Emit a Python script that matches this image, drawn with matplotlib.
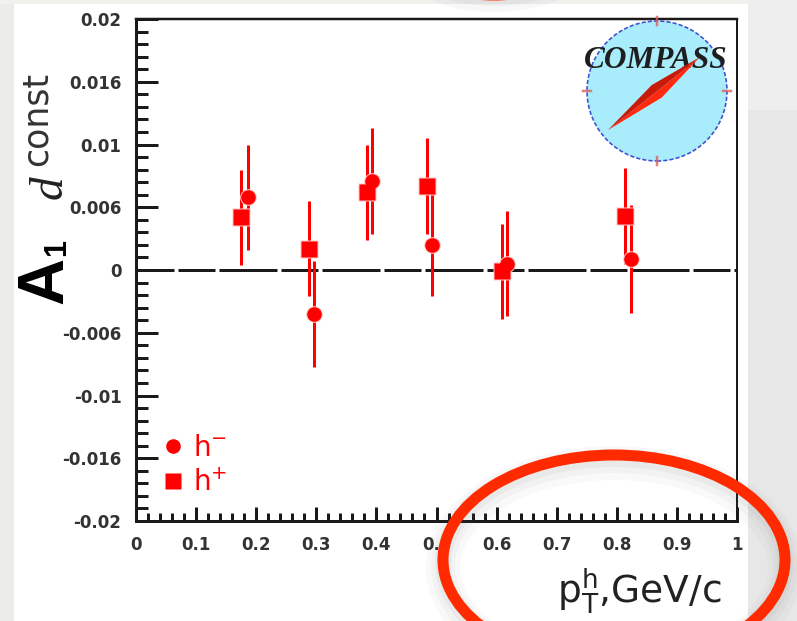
import numpy as np
import matplotlib
matplotlib.use("Agg")
import matplotlib.pyplot as plt
from matplotlib.patches import Ellipse, Rectangle, Polygon

plt.rcParams['font.family'] = ['DejaVu Sans']
plt.rcParams['lines.scale_dashes'] = False
plt.rcParams['axes.unicode_minus'] = False

# A1 asymmetry vs transverse hadron momentum, h+ and h-
pt_hplus = [0.175, 0.288, 0.384, 0.484, 0.609, 0.814]
a1_hplus = [0.0042, 0.0017, 0.0062, 0.0067, -0.0001, 0.0043]
err_hplus = [0.0038, 0.0038, 0.0038, 0.0038, 0.0038, 0.0038]

pt_hminus = [0.186, 0.296, 0.392, 0.493, 0.617, 0.824]
a1_hminus = [0.0058, -0.0035, 0.0071, 0.0020, 0.0005, 0.0009]
err_hminus = [0.0042, 0.0042, 0.0042, 0.0041, 0.0042, 0.0043]

xticks = [0, 0.1, 0.2, 0.3, 0.4, 0.5, 0.6, 0.7, 0.8, 0.9, 1.0]
xtick_labels = ['0', '0.1', '0.2', '0.3', '0.4', '0.5', '0.6', '0.7', '0.8', '0.9', '1']
yticks = [0.02, 0.015, 0.01, 0.005, 0, -0.005, -0.01, -0.015, -0.02]
ytick_labels = ['0.02', '0.016', '0.01', '0.006', '0', '-0.006', '-0.01', '-0.016', '-0.02']

W, H = 797, 621
PT = 0.72  # points per pixel at 100 dpi


def px(x, y):
    # pixel position (origin top-left) -> figure fraction
    return (x / W, 1 - y / H)


fig = plt.figure(figsize=(W / 100, H / 100), dpi=100, facecolor='#e8e8e8')

# slide background: white panel with grey margins
fig.patches.append(Rectangle(px(14, 621), (748 - 14) / W, (621 - 4) / H,
                             transform=fig.transFigure, facecolor='white',
                             edgecolor='none', zorder=-2))
fig.patches.append(Rectangle(px(0, 621), 14 / W, 1, transform=fig.transFigure,
                             facecolor='#ecedeb', edgecolor='none', zorder=-3))
fig.patches.append(Rectangle(px(0, 4), 1, 4 / H, transform=fig.transFigure,
                             facecolor='#f1f1ee', edgecolor='none', zorder=-3))
fig.patches.append(Rectangle(px(748, 621), (W - 748) / W, 1, transform=fig.transFigure,
                             facecolor='#e7e7e7', edgecolor='none', zorder=-3))
fig.patches.append(Rectangle(px(748, 110), (W - 748) / W, 110 / H, transform=fig.transFigure,
                             facecolor='#eeeeee', edgecolor='none', zorder=-3))

ax = fig.add_axes([136 / W, 1 - 521 / H, (737 - 136) / W, (521 - 19) / H])
ax.set_facecolor('white')

# zero line
ax.axhline(0, color='#1a1a1a', lw=3 * PT,
           linestyle=(20 * PT, (58 * PT, 4 * PT, 37 * PT, 4 * PT)), zorder=1)

# error bars
ax.errorbar(pt_hplus, a1_hplus, yerr=err_hplus, fmt='none', ecolor='#ff0000',
            elinewidth=3 * PT, capsize=0, zorder=2)
ax.errorbar(pt_hminus, a1_hminus, yerr=err_hminus, fmt='none', ecolor='#ff0000',
            elinewidth=3 * PT, capsize=0, zorder=2)

# soft halo behind markers
ax.plot(pt_hplus, a1_hplus, 's', ms=13, color='#ffc4c4', mec='none', zorder=3)
ax.plot(pt_hminus, a1_hminus, 'o', ms=12, color='#ffc4c4', mec='none', zorder=3)
sq, = ax.plot(pt_hplus, a1_hplus, 's', ms=11, color='#ff0000', mec='none', zorder=4)
ci, = ax.plot(pt_hminus, a1_hminus, 'o', ms=10.5, color='#ff0000', mec='none', zorder=4)

ax.set_xlim(0, 1)
ax.set_ylim(-0.02, 0.02)
ax.set_xticks(xticks)
ax.set_xticklabels(xtick_labels, fontweight='bold', fontsize=12, color='#333333')
ax.set_xticks(np.arange(0, 1.0001, 0.02), minor=True)
ax.set_yticks(yticks)
ax.set_yticklabels(ytick_labels, fontweight='bold', fontsize=12, color='#333333')
ax.set_yticks(np.arange(-0.02, 0.02001, 0.001), minor=True)

ax.tick_params(axis='y', which='major', direction='in', length=22 * PT, width=3 * PT,
               left=True, right=False, pad=10.5, color='#1a1a1a')
ax.tick_params(axis='y', which='minor', direction='in', length=12 * PT, width=3 * PT,
               left=True, right=False, color='#1a1a1a')
ax.tick_params(axis='x', which='major', direction='in', length=14 * PT, width=3 * PT,
               bottom=True, top=False, pad=11, color='#1a1a1a')
ax.tick_params(axis='x', which='minor', direction='in', length=8 * PT, width=3 * PT,
               bottom=True, top=False, color='#1a1a1a')

for side, w in [('left', 3), ('bottom', 3), ('top', 2.5), ('right', 2)]:
    ax.spines[side].set_linewidth(w * PT)
    ax.spines[side].set_color('#1a1a1a')

leg = ax.legend(handles=[ci, sq], labels=['h$^{-}$', 'h$^{+}$'],
                loc='upper left', bbox_to_anchor=(0.048, 0.174), frameon=False,
                fontsize=20, labelcolor='#ff0000', handlelength=0.6,
                handletextpad=0.4, labelspacing=0.25, borderaxespad=0, borderpad=0)

# axis titles
fig.text(*px(62, 304), 'A', rotation=90, rotation_mode='anchor', ha='left',
         va='baseline', fontsize=47, fontweight='bold', family='Liberation Sans',
         color='black')
fig.text(*px(65, 256), '1', rotation=90, rotation_mode='anchor', ha='left',
         va='baseline', fontsize=22, fontweight='bold', family='Liberation Sans',
         color='black')
fig.text(*px(62, 199), 'd', rotation=90, rotation_mode='anchor', ha='left',
         va='baseline', fontsize=34, style='italic', family='Liberation Serif',
         color='#222222')
fig.text(*px(47, 166), 'const', rotation=90, rotation_mode='anchor', ha='left',
         va='baseline', fontsize=25, color='#333333')

fig.text(*px(722, 603), r'$\mathregular{p_{T}^{h}}$,GeV/c', ha='right',
         va='baseline', fontsize=27, color='#222222')

# COMPASS logo
cx, cy, r = 657, 91, 70
fig.patches.append(Ellipse(px(cx, cy), 2 * r / W, 2 * r / H, transform=fig.transFigure,
                           facecolor='#a9ecfb', edgecolor='#3d4fd0', lw=1.6 * PT,
                           linestyle=(0, (3, 1.5)), zorder=2))
for (x0, y0, x1, y1) in [(cx, cy - r - 4, cx, cy - r + 4), (cx, cy + r - 4, cx, cy + r + 4),
                         (cx - r - 4, cy, cx - r + 4, cy), (cx + r - 4, cy, cx + r + 4, cy)]:
    fig.lines.append(plt.Line2D([x0 / W, x1 / W], [1 - y0 / H, 1 - y1 / H],
                                transform=fig.transFigure, color='#e06060',
                                lw=2.5 * PT, alpha=0.8, zorder=2.5))
fig.text(*px(656, 60), 'COMPASS', ha='center', va='center', fontsize=22.5,
         family='Liberation Serif', fontweight='bold', style='italic',
         color='#1e1e1e', zorder=3)

tip1 = np.array([608.0, 130.0])
tip2 = np.array([700.0, 57.0])
d = tip2 - tip1
mid = tip1 + 0.53 * d
nrm = np.array([-d[1], d[0]]) / np.hypot(*d) * 8
for sgn, col in [(1, '#ff2a10'), (-1, '#c81a08')]:
    pts = [tip1, mid + sgn * nrm, tip2]
    fig.patches.append(Polygon([px(*p) for p in pts], closed=True,
                               transform=fig.transFigure, facecolor=col,
                               edgecolor='none', zorder=4))

# marker ellipse drawn over the slide, with a soft shadow
ecx, ecy, ea, eb = 614, 560, 171, 105
for lw, dy, alpha in [(34, 8, 0.03), (24, 6, 0.04), (16, 4, 0.05)]:
    fig.patches.append(Ellipse(px(ecx, ecy + dy), 2 * ea / W, 2 * eb / H,
                               transform=fig.transFigure, fill=False,
                               edgecolor='#555555', lw=lw * PT, alpha=alpha, zorder=5))
fig.patches.append(Ellipse(px(ecx, ecy), 2 * ea / W, 2 * eb / H, transform=fig.transFigure,
                           fill=False, edgecolor='#ff2a00', lw=11 * PT, zorder=6))

# edge of a second ellipse at the top of the slide
for lw, dy, alpha in [(24, 5, 0.04), (16, 3, 0.05)]:
    fig.patches.append(Ellipse(px(494, -61 + dy), 200 / W, 112 / H,
                               transform=fig.transFigure, fill=False,
                               edgecolor='#555555', lw=lw * PT, alpha=alpha, zorder=5))
fig.patches.append(Ellipse(px(494, -61), 200 / W, 112 / H, transform=fig.transFigure,
                       fill=False, edgecolor='#ff2a00', lw=11 * PT, zorder=6))

fig.savefig('out.png', dpi=100, facecolor=fig.get_facecolor())
